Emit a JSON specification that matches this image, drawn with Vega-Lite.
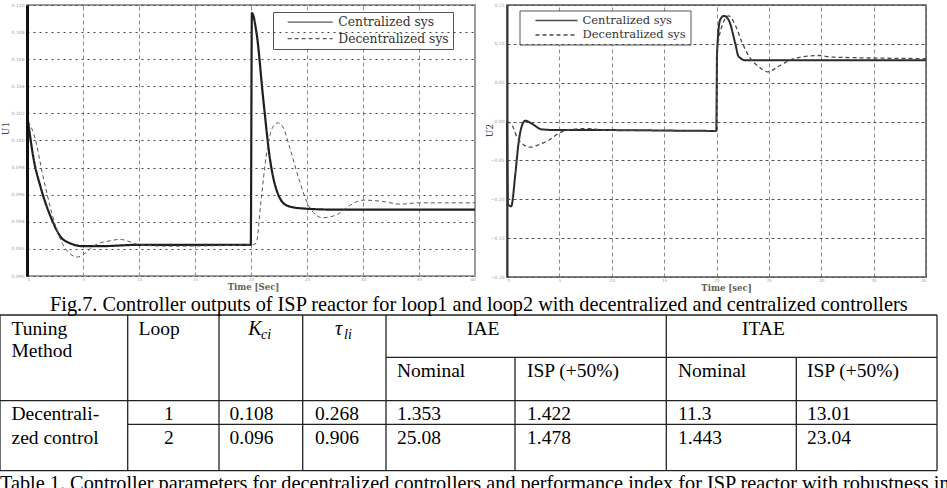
{
  "$schema": "https://vega.github.io/schema/vega-lite/v6.json",
  "width": 947,
  "height": 488,
  "autosize": {"type": "none"},
  "padding": 0,
  "background": "white",
  "config": {"view": {"stroke": null}, "font": "Liberation Serif"},
  "datasets": {
    "signals": [
      {"loop": 1, "controller": "Centralized sys", "t": 0.1, "u": 0.1014},
      {"loop": 1, "controller": "Centralized sys", "t": 0.6, "u": 0.0986},
      {"loop": 1, "controller": "Centralized sys", "t": 1.2, "u": 0.0966},
      {"loop": 1, "controller": "Centralized sys", "t": 2.1, "u": 0.0944},
      {"loop": 1, "controller": "Centralized sys", "t": 3.0, "u": 0.0929},
      {"loop": 1, "controller": "Centralized sys", "t": 3.9, "u": 0.0924},
      {"loop": 1, "controller": "Centralized sys", "t": 5.0, "u": 0.0922},
      {"loop": 1, "controller": "Centralized sys", "t": 6.5, "u": 0.0922},
      {"loop": 1, "controller": "Centralized sys", "t": 10, "u": 0.0923},
      {"loop": 1, "controller": "Centralized sys", "t": 15, "u": 0.0923},
      {"loop": 1, "controller": "Centralized sys", "t": 19.98, "u": 0.0923},
      {"loop": 1, "controller": "Centralized sys", "t": 20.08, "u": 0.1094},
      {"loop": 1, "controller": "Centralized sys", "t": 20.5, "u": 0.1079},
      {"loop": 1, "controller": "Centralized sys", "t": 21.1, "u": 0.1030},
      {"loop": 1, "controller": "Centralized sys", "t": 21.7, "u": 0.0986},
      {"loop": 1, "controller": "Centralized sys", "t": 22.3, "u": 0.0963},
      {"loop": 1, "controller": "Centralized sys", "t": 23.2, "u": 0.0952},
      {"loop": 1, "controller": "Centralized sys", "t": 24.4, "u": 0.0950},
      {"loop": 1, "controller": "Centralized sys", "t": 27.4, "u": 0.0949},
      {"loop": 1, "controller": "Centralized sys", "t": 40, "u": 0.0949},
      {"loop": 1, "controller": "Decentralized sys", "t": 0.1, "u": 0.1014},
      {"loop": 1, "controller": "Decentralized sys", "t": 0.6, "u": 0.1005},
      {"loop": 1, "controller": "Decentralized sys", "t": 1.5, "u": 0.0971},
      {"loop": 1, "controller": "Decentralized sys", "t": 2.4, "u": 0.0941},
      {"loop": 1, "controller": "Decentralized sys", "t": 3.3, "u": 0.0922},
      {"loop": 1, "controller": "Decentralized sys", "t": 4.5, "u": 0.0914},
      {"loop": 1, "controller": "Decentralized sys", "t": 5.2, "u": 0.0917},
      {"loop": 1, "controller": "Decentralized sys", "t": 5.9, "u": 0.0922},
      {"loop": 1, "controller": "Decentralized sys", "t": 7.4, "u": 0.0926},
      {"loop": 1, "controller": "Decentralized sys", "t": 8.3, "u": 0.0927},
      {"loop": 1, "controller": "Decentralized sys", "t": 10.1, "u": 0.0923},
      {"loop": 1, "controller": "Decentralized sys", "t": 12.5, "u": 0.0922},
      {"loop": 1, "controller": "Decentralized sys", "t": 19.98, "u": 0.0923},
      {"loop": 1, "controller": "Decentralized sys", "t": 20.45, "u": 0.0924},
      {"loop": 1, "controller": "Decentralized sys", "t": 20.9, "u": 0.0956},
      {"loop": 1, "controller": "Decentralized sys", "t": 21.35, "u": 0.0988},
      {"loop": 1, "controller": "Decentralized sys", "t": 21.95, "u": 0.1010},
      {"loop": 1, "controller": "Decentralized sys", "t": 22.4, "u": 0.1013},
      {"loop": 1, "controller": "Decentralized sys", "t": 22.85, "u": 0.1010},
      {"loop": 1, "controller": "Decentralized sys", "t": 23.45, "u": 0.0995},
      {"loop": 1, "controller": "Decentralized sys", "t": 24.3, "u": 0.0971},
      {"loop": 1, "controller": "Decentralized sys", "t": 25.2, "u": 0.0951},
      {"loop": 1, "controller": "Decentralized sys", "t": 26.4, "u": 0.0943},
      {"loop": 1, "controller": "Decentralized sys", "t": 27.6, "u": 0.0945},
      {"loop": 1, "controller": "Decentralized sys", "t": 28.8, "u": 0.0952},
      {"loop": 1, "controller": "Decentralized sys", "t": 30.0, "u": 0.0956},
      {"loop": 1, "controller": "Decentralized sys", "t": 31.8, "u": 0.0955},
      {"loop": 1, "controller": "Decentralized sys", "t": 33.3, "u": 0.0953},
      {"loop": 1, "controller": "Decentralized sys", "t": 35, "u": 0.0954},
      {"loop": 1, "controller": "Decentralized sys", "t": 40, "u": 0.0954},
      {"loop": 2, "controller": "Centralized sys", "t": 0, "u": 0.0},
      {"loop": 2, "controller": "Centralized sys", "t": 0.1, "u": -0.107},
      {"loop": 2, "controller": "Centralized sys", "t": 0.4, "u": -0.109},
      {"loop": 2, "controller": "Centralized sys", "t": 0.8, "u": -0.067},
      {"loop": 2, "controller": "Centralized sys", "t": 1.1, "u": -0.028},
      {"loop": 2, "controller": "Centralized sys", "t": 1.43, "u": -0.005},
      {"loop": 2, "controller": "Centralized sys", "t": 1.75, "u": 0.001},
      {"loop": 2, "controller": "Centralized sys", "t": 2.4, "u": -0.003},
      {"loop": 2, "controller": "Centralized sys", "t": 3.3, "u": -0.010},
      {"loop": 2, "controller": "Centralized sys", "t": 4.9, "u": -0.011},
      {"loop": 2, "controller": "Centralized sys", "t": 10, "u": -0.011},
      {"loop": 2, "controller": "Centralized sys", "t": 19.98, "u": -0.012},
      {"loop": 2, "controller": "Centralized sys", "t": 20.05, "u": 0.088},
      {"loop": 2, "controller": "Centralized sys", "t": 20.35, "u": 0.131},
      {"loop": 2, "controller": "Centralized sys", "t": 20.7, "u": 0.136},
      {"loop": 2, "controller": "Centralized sys", "t": 21.15, "u": 0.131},
      {"loop": 2, "controller": "Centralized sys", "t": 21.8, "u": 0.100},
      {"loop": 2, "controller": "Centralized sys", "t": 22.1, "u": 0.084},
      {"loop": 2, "controller": "Centralized sys", "t": 22.75, "u": 0.079},
      {"loop": 2, "controller": "Centralized sys", "t": 40, "u": 0.079},
      {"loop": 2, "controller": "Decentralized sys", "t": 0, "u": 0.0},
      {"loop": 2, "controller": "Decentralized sys", "t": 0.5, "u": -0.005},
      {"loop": 2, "controller": "Decentralized sys", "t": 0.95, "u": -0.020},
      {"loop": 2, "controller": "Decentralized sys", "t": 1.43, "u": -0.028},
      {"loop": 2, "controller": "Decentralized sys", "t": 2.2, "u": -0.033},
      {"loop": 2, "controller": "Decentralized sys", "t": 3.0, "u": -0.030},
      {"loop": 2, "controller": "Decentralized sys", "t": 4.0, "u": -0.024},
      {"loop": 2, "controller": "Decentralized sys", "t": 5.0, "u": -0.0145},
      {"loop": 2, "controller": "Decentralized sys", "t": 6.2, "u": -0.010},
      {"loop": 2, "controller": "Decentralized sys", "t": 7.8, "u": -0.009},
      {"loop": 2, "controller": "Decentralized sys", "t": 9.4, "u": -0.011},
      {"loop": 2, "controller": "Decentralized sys", "t": 19.98, "u": -0.012},
      {"loop": 2, "controller": "Decentralized sys", "t": 20.05, "u": 0.088},
      {"loop": 2, "controller": "Decentralized sys", "t": 20.5, "u": 0.122},
      {"loop": 2, "controller": "Decentralized sys", "t": 21.15, "u": 0.136},
      {"loop": 2, "controller": "Decentralized sys", "t": 21.8, "u": 0.124},
      {"loop": 2, "controller": "Decentralized sys", "t": 22.4, "u": 0.103},
      {"loop": 2, "controller": "Decentralized sys", "t": 23.1, "u": 0.084},
      {"loop": 2, "controller": "Decentralized sys", "t": 24.0, "u": 0.071},
      {"loop": 2, "controller": "Decentralized sys", "t": 24.9, "u": 0.064},
      {"loop": 2, "controller": "Decentralized sys", "t": 25.9, "u": 0.071},
      {"loop": 2, "controller": "Decentralized sys", "t": 27.2, "u": 0.080},
      {"loop": 2, "controller": "Decentralized sys", "t": 28.5, "u": 0.084},
      {"loop": 2, "controller": "Decentralized sys", "t": 29.75, "u": 0.085},
      {"loop": 2, "controller": "Decentralized sys", "t": 31.0, "u": 0.083},
      {"loop": 2, "controller": "Decentralized sys", "t": 40, "u": 0.081}
    ],
    "cells": [
      {"kind": "caption", "text": "Fig.7. Controller outputs of ISP reactor for loop1 and loop2 with decentralized and centralized controllers", "xs": 2, "ys": 0},
      {"kind": "caption", "text": "Table 1. Controller parameters for decentralized controllers and performance index for ISP reactor with robustness index", "xs": 0, "ys": 11},
      {"kind": "header", "text": "Tuning", "xs": 1, "ys": 2},
      {"kind": "header", "text": "Method", "xs": 1, "ys": 4},
      {"kind": "header", "text": "Loop", "xs": 4, "ys": 2},
      {"kind": "symbol", "text": "K", "xs": 8, "ys": 2},
      {"kind": "subscript", "text": "ci", "xs": 9, "ys": 3},
      {"kind": "symbol", "text": "τ", "xs": 12, "ys": 2},
      {"kind": "subscript", "text": "li", "xs": 13, "ys": 3},
      {"kind": "header", "text": "IAE", "xs": 16, "ys": 2},
      {"kind": "header", "text": "ITAE", "xs": 21, "ys": 2},
      {"kind": "header", "text": "Nominal", "xs": 15, "ys": 5},
      {"kind": "header", "text": "ISP (+50%)", "xs": 18, "ys": 5},
      {"kind": "header", "text": "Nominal", "xs": 20, "ys": 5},
      {"kind": "header", "text": "ISP (+50%)", "xs": 23, "ys": 5},
      {"kind": "cell", "text": "Decentrali-", "xs": 1, "ys": 7},
      {"kind": "cell", "text": "zed control", "xs": 1, "ys": 9},
      {"kind": "cell", "text": "1", "xs": 5, "ys": 7},
      {"kind": "cell", "text": "2", "xs": 5, "ys": 9},
      {"kind": "cell", "text": "0.108", "xs": 7, "ys": 7},
      {"kind": "cell", "text": "0.096", "xs": 7, "ys": 9},
      {"kind": "cell", "text": "0.268", "xs": 11, "ys": 7},
      {"kind": "cell", "text": "0.906", "xs": 11, "ys": 9},
      {"kind": "cell", "text": "1.353", "xs": 15, "ys": 7},
      {"kind": "cell", "text": "25.08", "xs": 15, "ys": 9},
      {"kind": "cell", "text": "1.422", "xs": 18, "ys": 7},
      {"kind": "cell", "text": "1.478", "xs": 18, "ys": 9},
      {"kind": "cell", "text": "11.3", "xs": 20, "ys": 7},
      {"kind": "cell", "text": "1.443", "xs": 20, "ys": 9},
      {"kind": "cell", "text": "13.01", "xs": 23, "ys": 7},
      {"kind": "cell", "text": "23.04", "xs": 23, "ys": 9}
    ],
    "rules": [
      {"x1": 0, "x2": 0, "y1": 1, "y2": 10},
      {"x1": 3, "x2": 3, "y1": 1, "y2": 10},
      {"x1": 6, "x2": 6, "y1": 1, "y2": 10},
      {"x1": 10, "x2": 10, "y1": 1, "y2": 10},
      {"x1": 14, "x2": 14, "y1": 1, "y2": 10},
      {"x1": 17, "x2": 17, "y1": 4, "y2": 10},
      {"x1": 19, "x2": 19, "y1": 1, "y2": 10},
      {"x1": 22, "x2": 22, "y1": 4, "y2": 10},
      {"x1": 24, "x2": 24, "y1": 1, "y2": 10},
      {"x1": 0, "x2": 24, "y1": 1, "y2": 1},
      {"x1": 14, "x2": 24, "y1": 4, "y2": 4},
      {"x1": 0, "x2": 24, "y1": 6, "y2": 6},
      {"x1": 3, "x2": 24, "y1": 8, "y2": 8},
      {"x1": 0, "x2": 24, "y1": 10, "y2": 10}
    ],
    "frame": [{}]
  },
  "resolve": {
    "scale": {"x": "independent", "y": "independent", "strokeDash": "independent"},
    "axis": {"x": "independent", "y": "independent"},
    "legend": {"strokeDash": "independent"}
  },
  "layer": [
    {
      "layer": [
        {
          "data": {"name": "frame"},
          "mark": {"type": "rect", "fillOpacity": 0, "stroke": "#9a9a9a", "strokeWidth": 2},
          "encoding": {
            "x": {"datum": 0, "type": "quantitative",
              "scale": {"domain": [0, 40], "range": [27, 475], "nice": false, "zero": false},
              "axis": {"orient": "top", "offset": -276, "values": [0, 5, 10, 15, 20, 25, 30, 35, 40],
                "grid": true, "gridDash": [4, 3], "gridColor": "#8c8c8c", "gridWidth": 1,
                "ticks": false, "domain": false,
                "labelPadding": -1.5, "labelBaseline": "top", "labelFont": "DejaVu Sans", "labelFontSize": 4.2, "labelColor": "#a0a0a0",
                "title": "Time [Sec]", "titleX": 253, "titleY": 13.5, "titleBaseline": "alphabetic", "titleAlign": "center",
                "titleFont": "DejaVu Serif", "titleFontSize": 8.5, "titleFontWeight": "bold", "titleColor": "#665f50"}},
            "x2": {"datum": 40},
            "y": {"datum": 0.09, "type": "quantitative",
              "scale": {"domain": [0.09, 0.11], "range": [276, 5], "nice": false, "zero": false},
              "axis": {"orient": "left", "offset": -27, "zindex": 1,
                "values": [0.09, 0.092, 0.094, 0.096, 0.098, 0.1, 0.102, 0.104, 0.106, 0.108, 0.11],
                "grid": true, "gridDash": [2, 4], "gridColor": "#444", "gridWidth": 1,
                "ticks": false, "domain": true, "domainColor": "#111", "domainWidth": 3,
                "labelPadding": 3, "labelFont": "DejaVu Sans", "labelFontSize": 4.5, "labelColor": "#a0a0a0",
                "title": "U1", "titleX": -22, "titleY": 128, "titleAngle": -90, "titleAlign": "center", "titleBaseline": "middle",
                "titleFont": "DejaVu Serif", "titleFontSize": 9, "titleFontWeight": "normal", "titleColor": "#444"}},
            "y2": {"datum": 0.11}
          }
        },
        {
          "data": {"name": "signals"},
          "transform": [{"filter": "datum.loop == 1 && datum.controller == 'Centralized sys'"}],
          "mark": {"type": "line", "interpolate": "monotone", "color": "#1e1e1e", "strokeWidth": 2.2},
          "encoding": {
            "x": {"field": "t", "type": "quantitative", "scale": {"domain": [0, 40], "range": [27, 475], "nice": false, "zero": false}},
            "y": {"field": "u", "type": "quantitative", "scale": {"domain": [0.09, 0.11], "range": [276, 5], "nice": false, "zero": false}},
            "strokeDash": {"field": "controller", "type": "nominal",
              "scale": {"domain": ["Centralized sys", "Decentralized sys"], "range": [[1, 0], [4, 3]]},
              "legend": {"title": null, "orient": "none", "legendX": 273, "legendY": 12,
                "symbolType": "M-4.5,0H4.5", "symbolSize": 100, "symbolStrokeWidth": 1.2, "symbolStrokeColor": "#333", "symbolFillColor": "transparent", "symbolOffset": 27,
                "labelFont": "DejaVu Serif", "labelFontSize": 12.3, "labelColor": "#333", "labelOffset": 22,
                "padding": 4, "strokeColor": "#555", "fillColor": "#ffffff", "rowPadding": 3.5}}
          }
        },
        {
          "data": {"name": "signals"},
          "transform": [{"filter": "datum.loop == 1 && datum.controller == 'Decentralized sys'"}],
          "mark": {"type": "line", "interpolate": "monotone", "color": "#5a5a5a", "strokeWidth": 1},
          "encoding": {
            "x": {"field": "t", "type": "quantitative", "scale": {"domain": [0, 40], "range": [27, 475], "nice": false, "zero": false}},
            "y": {"field": "u", "type": "quantitative", "scale": {"domain": [0.09, 0.11], "range": [276, 5], "nice": false, "zero": false}},
            "strokeDash": {"field": "controller", "type": "nominal",
              "scale": {"domain": ["Centralized sys", "Decentralized sys"], "range": [[1, 0], [4, 3]]}}
          }
        }
      ]
    },
    {
      "layer": [
        {
          "data": {"name": "frame"},
          "mark": {"type": "rect", "fillOpacity": 0, "stroke": "#555", "strokeWidth": 1.5},
          "encoding": {
            "x": {"datum": 0, "type": "quantitative",
              "scale": {"domain": [0, 40], "range": [507, 926], "nice": false, "zero": false},
              "axis": {"orient": "top", "offset": -277, "values": [0, 5, 10, 15, 20, 25, 30, 35, 40],
                "grid": true, "gridDash": [4, 3], "gridColor": "#8c8c8c", "gridWidth": 1,
                "ticks": false, "domain": false,
                "labelPadding": -1.5, "labelBaseline": "top", "labelFont": "DejaVu Sans", "labelFontSize": 4.2, "labelColor": "#a0a0a0",
                "title": "Time [sec]", "titleX": 726, "titleY": 13, "titleBaseline": "alphabetic", "titleAlign": "center",
                "titleFont": "DejaVu Serif", "titleFontSize": 8.5, "titleFontWeight": "bold", "titleColor": "#665f50"}},
            "x2": {"datum": 40},
            "y": {"datum": -0.2, "type": "quantitative",
              "scale": {"domain": [-0.2, 0.15], "range": [277, 5], "nice": false, "zero": false},
              "axis": {"orient": "left", "offset": -507, "zindex": 1,
                "values": [-0.2, -0.15, -0.1, -0.05, 0, 0.05, 0.1, 0.15],
                "grid": true, "gridDash": [3, 3], "gridColor": "#555", "gridWidth": 1,
                "ticks": false, "domain": true, "domainColor": "#333", "domainWidth": 2,
                "labelPadding": 3, "labelFont": "DejaVu Sans", "labelFontSize": 4.5, "labelColor": "#a0a0a0",
                "title": "U2", "titleX": -18, "titleY": 130, "titleAngle": -90, "titleAlign": "center", "titleBaseline": "middle",
                "titleFont": "DejaVu Serif", "titleFontSize": 9, "titleFontWeight": "normal", "titleColor": "#444"}},
            "y2": {"datum": 0.15}
          }
        },
        {
          "data": {"name": "signals"},
          "transform": [{"filter": "datum.loop == 2 && datum.controller == 'Centralized sys'"}],
          "mark": {"type": "line", "interpolate": "monotone", "color": "#2a2a2a", "strokeWidth": 2},
          "encoding": {
            "x": {"field": "t", "type": "quantitative", "scale": {"domain": [0, 40], "range": [507, 926], "nice": false, "zero": false}},
            "y": {"field": "u", "type": "quantitative", "scale": {"domain": [-0.2, 0.15], "range": [277, 5], "nice": false, "zero": false}},
            "strokeDash": {"field": "controller", "type": "nominal",
              "scale": {"domain": ["Centralized sys", "Decentralized sys"], "range": [[1, 0], [4, 3]]},
              "legend": {"title": null, "orient": "none", "legendX": 519.5, "legendY": 10.5,
                "symbolType": "M-4.2,0H4.2", "symbolSize": 100, "symbolStrokeWidth": 1.4, "symbolStrokeColor": "#333", "symbolFillColor": "transparent", "symbolOffset": 27,
                "labelFont": "DejaVu Serif", "labelFontSize": 11.5, "labelColor": "#333", "labelOffset": 20,
                "padding": 4, "strokeColor": "#555", "fillColor": "#ffffff", "rowPadding": 2.5}}
          }
        },
        {
          "data": {"name": "signals"},
          "transform": [{"filter": "datum.loop == 2 && datum.controller == 'Decentralized sys'"}],
          "mark": {"type": "line", "interpolate": "monotone", "color": "#4a4a4a", "strokeWidth": 1.3},
          "encoding": {
            "x": {"field": "t", "type": "quantitative", "scale": {"domain": [0, 40], "range": [507, 926], "nice": false, "zero": false}},
            "y": {"field": "u", "type": "quantitative", "scale": {"domain": [-0.2, 0.15], "range": [277, 5], "nice": false, "zero": false}},
            "strokeDash": {"field": "controller", "type": "nominal",
              "scale": {"domain": ["Centralized sys", "Decentralized sys"], "range": [[1, 0], [4, 3]]}}
          }
        }
      ]
    },
    {
      "layer": [
        {
          "data": {"name": "rules"},
          "mark": {"type": "rule", "color": "#222", "strokeWidth": 1.3},
          "encoding": {
            "x": {"field": "x1", "type": "quantitative", "axis": null,
              "scale": {"domain": [0, 1, 2, 3, 4, 5, 6, 7, 8, 9, 10, 11, 12, 13, 14, 15, 16, 17, 18, 19, 20, 21, 22, 23, 24],
                "range": [0, 11.5, 50, 127.7, 138.5, 164, 219, 229.5, 248.3, 261, 302.7, 315, 335, 344, 386, 397, 467, 515, 527, 666.3, 678, 742, 796.3, 807, 937], "nice": false, "zero": false}},
            "x2": {"field": "x2"},
            "y": {"field": "y1", "type": "quantitative", "axis": null,
              "scale": {"domain": [0, 1, 2, 3, 4, 5, 6, 7, 8, 9, 10, 11],
                "range": [311, 315, 335, 338.5, 357.3, 376.7, 400.7, 420, 424.3, 443.5, 470.7, 490], "nice": false, "zero": false}},
            "y2": {"field": "y2"}
          }
        },
        {
          "data": {"name": "cells"},
          "transform": [{"filter": "datum.kind == 'header' || datum.kind == 'cell'"}],
          "mark": {"type": "text", "align": "left", "baseline": "alphabetic", "font": "Liberation Serif", "fontSize": 19.5, "color": "#000"},
          "encoding": {
            "x": {"field": "xs", "type": "quantitative", "axis": null,
              "scale": {"domain": [0, 1, 2, 3, 4, 5, 6, 7, 8, 9, 10, 11, 12, 13, 14, 15, 16, 17, 18, 19, 20, 21, 22, 23, 24],
                "range": [0, 11.5, 50, 127.7, 138.5, 164, 219, 229.5, 248.3, 261, 302.7, 315, 335, 344, 386, 397, 467, 515, 527, 666.3, 678, 742, 796.3, 807, 937], "nice": false, "zero": false}},
            "y": {"field": "ys", "type": "quantitative", "axis": null,
              "scale": {"domain": [0, 1, 2, 3, 4, 5, 6, 7, 8, 9, 10, 11],
                "range": [311, 315, 335, 338.5, 357.3, 376.7, 400.7, 420, 424.3, 443.5, 470.7, 490], "nice": false, "zero": false}},
            "text": {"field": "text"}
          }
        },
        {
          "data": {"name": "cells"},
          "transform": [{"filter": "datum.kind == 'symbol'"}],
          "mark": {"type": "text", "align": "left", "baseline": "alphabetic", "font": "Liberation Serif", "fontStyle": "italic", "fontSize": 20, "color": "#000"},
          "encoding": {
            "x": {"field": "xs", "type": "quantitative"},
            "y": {"field": "ys", "type": "quantitative"},
            "text": {"field": "text"}
          }
        },
        {
          "data": {"name": "cells"},
          "transform": [{"filter": "datum.kind == 'subscript'"}],
          "mark": {"type": "text", "align": "left", "baseline": "alphabetic", "font": "Liberation Serif", "fontStyle": "italic", "fontSize": 14, "color": "#000"},
          "encoding": {
            "x": {"field": "xs", "type": "quantitative"},
            "y": {"field": "ys", "type": "quantitative"},
            "text": {"field": "text"}
          }
        },
        {
          "data": {"name": "cells"},
          "transform": [{"filter": "datum.kind == 'caption'"}],
          "mark": {"type": "text", "align": "left", "baseline": "alphabetic", "font": "Liberation Serif", "fontSize": 20.3, "color": "#000"},
          "encoding": {
            "x": {"field": "xs", "type": "quantitative"},
            "y": {"field": "ys", "type": "quantitative"},
            "text": {"field": "text"}
          }
        }
      ]
    }
  ]
}
